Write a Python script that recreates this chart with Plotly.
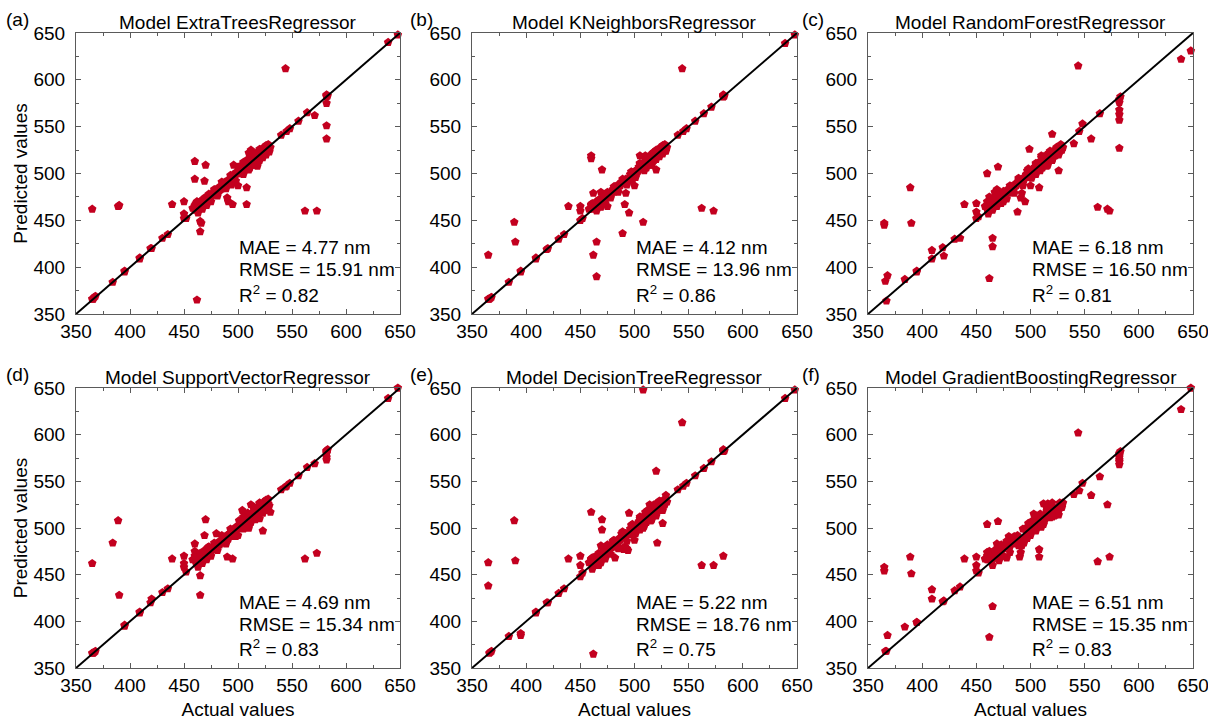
import plotly.graph_objects as go

# ---------------- data ----------------
actual = [
    365, 365, 366, 367, 368, 384, 389, 390, 395, 395,
    409, 409, 419, 420, 430, 435, 439, 450, 450, 450,
    452, 460, 460, 460, 461, 462, 462, 463, 465, 465,
    465, 466, 467, 468, 469, 470, 470, 471, 472, 473,
    474, 475, 476, 477, 478, 479, 480, 481, 482, 483,
    484, 485, 486, 487, 488, 489, 490, 491, 492, 493,
    494, 495, 496, 497, 498, 499, 500, 501, 502, 503,
    504, 505, 506, 507, 508, 508, 509, 510, 511, 512,
    513, 514, 515, 516, 517, 518, 519, 520, 521, 522,
    523, 524, 525, 526, 527, 528, 530, 540, 544, 545,
    548, 556, 562, 564, 571, 573, 582, 582, 582, 583,
    639, 648, 461, 463, 464, 466, 468, 472, 476, 480,
    484, 488, 492, 496, 500, 503, 506, 510, 513, 516,
    519, 522, 525, 528, 460, 462, 582, 582, 582, 464,
    458, 461, 463, 465, 467, 469, 471, 473, 475, 478,
    481, 485, 489, 493, 497, 501, 505, 509, 512, 515,
    518, 520, 523, 526, 529, 505, 510, 515, 520, 498,
]

pred_extra_trees = [
    462, 366, 366, 368, 369, 384, 465, 466, 395, 396,
    409, 410, 420, 420, 431, 435, 467, 470, 457, 452,
    452, 513, 494, 466, 468, 365, 470, 465, 449, 438,
    470, 447, 466, 469, 492, 509, 472, 470, 474, 472,
    476, 474, 478, 477, 481, 479, 483, 480, 485, 482,
    486, 484, 489, 487, 491, 490, 474, 470, 494, 491,
    488, 467, 499, 496, 501, 500, 487, 503, 500, 508,
    507, 510, 505, 509, 485, 467, 512, 522, 506, 525,
    511, 517, 520, 509, 522, 508, 523, 516, 524, 519,
    521, 528, 527, 530, 524, 531, 528, 541, 612, 545,
    548, 556, 460, 565, 562, 460, 575, 551, 537, 583,
    640, 648, 463, 466, 463, 470, 467, 474, 478, 479,
    483, 486, 490, 509, 507, 504, 509, 513, 511, 514,
    521, 518, 523, 526, 461, 465, 582, 583, 584, 466,
    463, 467, 458, 470, 462, 474, 466, 478, 470, 483,
    476, 491, 484, 498, 492, 507, 499, 515, 517, 509,
    512, 526, 517, 520, 523, 512, 504, 521, 514, 492,
]

pred_kneighbors = [
    413, 366, 366, 367, 368, 384, 448, 427, 395, 396,
    409, 410, 419, 420, 430, 435, 465, 465, 460, 450,
    452, 519, 516, 466, 468, 413, 479, 465, 427, 390,
    470, 468, 466, 469, 480, 504, 471, 470, 474, 472,
    476, 465, 478, 477, 480, 479, 483, 480, 486, 482,
    486, 484, 489, 487, 491, 436, 490, 467, 479, 491,
    493, 458, 499, 496, 501, 500, 487, 503, 500, 504,
    507, 519, 505, 509, 448, 506, 512, 519, 506, 515,
    511, 517, 520, 509, 522, 514, 523, 504, 524, 519,
    521, 528, 527, 530, 524, 531, 528, 541, 612, 545,
    548, 556, 463, 564, 571, 460, 582, 583, 582, 583,
    639, 648, 462, 465, 463, 468, 466, 473, 475, 481,
    485, 490, 494, 493, 499, 502, 508, 511, 514, 517,
    522, 520, 526, 525, 467, 464, 583, 582, 584, 466,
    462, 466, 468, 460, 472, 464, 476, 468, 480, 474,
    486, 480, 494, 488, 502, 496, 510, 503, 517, 510,
    523, 515, 518, 521, 524, 511, 515, 509, 525, 493,
]

pred_random_forest = [
    447, 445, 385, 364, 391, 387, 485, 447, 395, 396,
    418, 409, 421, 412, 430, 431, 467, 468, 459, 452,
    454, 500, 470, 466, 468, 388, 475, 465, 431, 422,
    470, 468, 480, 469, 483, 507, 471, 478, 474, 472,
    476, 470, 478, 477, 481, 483, 479, 480, 486, 482,
    486, 484, 489, 487, 459, 493, 490, 474, 479, 491,
    493, 470, 499, 496, 501, 526, 487, 503, 500, 504,
    507, 510, 505, 509, 485, 512, 512, 519, 506, 515,
    511, 517, 520, 509, 522, 514, 523, 542, 524, 519,
    521, 528, 527, 503, 524, 531, 528, 532, 615, 545,
    553, 537, 464, 564, 462, 460, 579, 576, 568, 582,
    622, 631, 462, 465, 463, 470, 466, 473, 478, 481,
    485, 490, 494, 498, 502, 505, 509, 512, 516, 518,
    522, 520, 526, 525, 462, 466, 563, 557, 527, 467,
    465, 457, 470, 461, 474, 465, 477, 468, 481, 473,
    487, 479, 495, 487, 503, 495, 511, 503, 518, 509,
    524, 514, 519, 520, 525, 499, 517, 508, 514, 505,
]

pred_support_vector = [
    462, 366, 366, 367, 368, 484, 508, 428, 395, 396,
    409, 410, 420, 424, 431, 435, 467, 470, 462, 458,
    453, 483, 475, 470, 466, 468, 472, 465, 449, 428,
    470, 467, 466, 469, 492, 509, 474, 470, 479, 475,
    476, 474, 478, 477, 481, 479, 494, 480, 485, 482,
    486, 484, 489, 487, 491, 490, 469, 488, 494, 491,
    493, 467, 497, 496, 501, 500, 492, 503, 500, 504,
    519, 510, 505, 509, 507, 506, 512, 500, 506, 525,
    511, 517, 520, 509, 522, 514, 523, 510, 524, 519,
    497, 528, 527, 530, 524, 531, 517, 541, 544, 545,
    548, 556, 467, 565, 569, 473, 580, 576, 573, 584,
    639, 650, 463, 466, 463, 470, 467, 474, 478, 479,
    485, 490, 494, 493, 499, 502, 508, 511, 514, 517,
    521, 518, 523, 526, 466, 465, 582, 583, 581, 466,
    466, 468, 458, 473, 462, 476, 466, 480, 470, 484,
    476, 492, 483, 499, 491, 508, 499, 516, 506, 520,
    512, 527, 516, 519, 524, 512, 504, 521, 526, 491,
]

pred_decision_tree = [
    463, 438, 366, 367, 368, 384, 508, 465, 387, 385,
    409, 410, 420, 420, 430, 435, 467, 470, 460, 448,
    452, 517, 466, 463, 468, 365, 465, 465, 461, 467,
    470, 468, 460, 469, 481, 509, 498, 470, 474, 472,
    476, 474, 478, 477, 481, 479, 486, 480, 468, 482,
    486, 484, 489, 487, 494, 490, 477, 480, 494, 478,
    476, 516, 499, 496, 501, 500, 487, 503, 500, 504,
    507, 510, 505, 509, 648, 500, 512, 514, 506, 515,
    511, 525, 520, 509, 522, 514, 523, 561, 484, 519,
    521, 528, 527, 505, 524, 531, 528, 541, 613, 545,
    548, 556, 460, 564, 571, 460, 470, 582, 583, 583,
    639, 648, 462, 465, 463, 468, 466, 473, 475, 481,
    485, 490, 494, 493, 499, 502, 508, 511, 514, 517,
    522, 520, 526, 525, 467, 464, 583, 582, 584, 466,
    463, 456, 469, 460, 473, 463, 478, 467, 482, 472,
    487, 478, 496, 486, 503, 494, 512, 502, 519, 508,
    525, 513, 529, 519, 535, 498, 517, 508, 526, 504,
]

pred_gradient_boosting = [
    458, 454, 368, 368, 385, 394, 469, 451, 399, 399,
    434, 424, 421, 422, 433, 437, 467, 469, 460, 454,
    452, 504, 470, 466, 470, 383, 475, 468, 416, 472,
    466, 470, 474, 468, 483, 507, 472, 480, 478, 476,
    470, 478, 482, 480, 468, 483, 491, 480, 486, 485,
    483, 484, 488, 487, 489, 490, 469, 474, 481, 486,
    484, 490, 496, 494, 499, 502, 492, 505, 507, 515,
    504, 510, 503, 509, 477, 469, 510, 512, 505, 526,
    514, 512, 518, 526, 512, 516, 519, 521, 515, 521,
    521, 518, 520, 514, 527, 524, 527, 536, 602, 540,
    548, 535, 464, 555, 525, 469, 578, 573, 568, 582,
    627, 650, 466, 468, 465, 472, 471, 477, 480, 484,
    487, 492, 488, 500, 498, 506, 504, 509, 508, 519,
    516, 513, 521, 523, 474, 470, 580, 576, 571, 470,
    467, 470, 474, 460, 476, 478, 465, 482, 470, 486,
    474, 491, 481, 499, 489, 507, 497, 515, 504, 521,
    511, 527, 514, 518, 522, 513, 501, 522, 512, 505,
]

model_names = [
    "ExtraTreesRegressor", "KNeighborsRegressor", "RandomForestRegressor",
    "SupportVectorRegressor", "DecisionTreeRegressor", "GradientBoostingRegressor",
]
panel_labels = ["(a)", "(b)", "(c)", "(d)", "(e)", "(f)"]
predictions = [pred_extra_trees, pred_kneighbors, pred_random_forest,
               pred_support_vector, pred_decision_tree, pred_gradient_boosting]
mae = ["4.77", "4.12", "6.18", "4.69", "5.22", "6.51"]
rmse = ["15.91", "13.96", "16.50", "15.34", "18.76", "15.35"]
r2 = ["0.82", "0.86", "0.81", "0.83", "0.75", "0.83"]
axis_range = [350, 650]
tick_vals = [350, 400, 450, 500, 550, 600, 650]

# ---------------- layout geometry (pixels) ----------------
W, H = 1208, 720
col_px = [(76, 400), (472, 797), (868, 1193)]
row_px = [(33, 314), (388, 668)]

FONT = "Arial, Liberation Sans, sans-serif"
MARKER_COLOR = "#C3001F"
AXIS_COLOR = "#5a5a5a"

fig = go.Figure()
annotations = []
layout_axes = {}

for i in range(6):
    r, c = divmod(i, 3)
    k = "" if i == 0 else str(i + 1)
    xa, ya = "x" + k, "y" + k
    x0, x1 = col_px[c]
    y0, y1 = row_px[r]
    xdom = [x0 / W, x1 / W]
    ydom = [1 - y1 / H, 1 - y0 / H]

    fig.add_trace(go.Scatter(
        x=actual, y=predictions[i], mode="markers", xaxis=xa, yaxis=ya,
        marker=dict(symbol="pentagon", size=9, color=MARKER_COLOR, line=dict(width=0)),
        showlegend=False, cliponaxis=False,
    ))
    fig.add_trace(go.Scatter(
        x=axis_range, y=axis_range, mode="lines", xaxis=xa, yaxis=ya,
        line=dict(color="black", width=2), showlegend=False,
    ))

    common = dict(
        range=axis_range, tickvals=tick_vals, ticks="inside", ticklen=5, tickwidth=1,
        tickcolor=AXIS_COLOR, showline=True, linecolor=AXIS_COLOR, linewidth=1.2,
        mirror="ticks", showgrid=False, zeroline=False, automargin=False,
        ticklabeloverflow="allow",
        tickfont=dict(family=FONT, size=19, color="black"),
        minor=dict(ticks="inside", ticklen=3, tickcolor=AXIS_COLOR, dtick=25, tick0=350,
                   showgrid=False),
    )
    xaxis = dict(common, domain=xdom, anchor=ya, ticklabelstandoff=0)
    yaxis = dict(common, domain=ydom, anchor=xa, ticklabelstandoff=6)
    if r == 1:
        xaxis["title"] = dict(text="Actual values", font=dict(family=FONT, size=19, color="black"),
                              standoff=16)
    if c == 0:
        yaxis["title"] = dict(text="Predicted values", font=dict(family=FONT, size=19, color="black"),
                              standoff=0)
    layout_axes["xaxis" + k] = xaxis
    layout_axes["yaxis" + k] = yaxis

    # title
    annotations.append(dict(
        text="Model " + model_names[i], xref=xa + " domain", yref=ya + " domain",
        x=0.5, y=1, xanchor="center", yanchor="bottom", yshift=-2, showarrow=False,
        font=dict(family=FONT, size=19, color="black"),
    ))
    # panel label
    label_x = [4, 408, 800][c]
    annotations.append(dict(
        text=panel_labels[i], xref="paper", yref="paper",
        x=label_x / W, y=1 - (y0 - 14) / H, xanchor="left", yanchor="middle",
        showarrow=False, font=dict(family=FONT, size=19, color="black"),
    ))
    # metrics
    lines = ["MAE = %s nm" % mae[i], "RMSE = %s nm" % rmse[i], "R<sup>2</sup> = %s" % r2[i]]
    for txt, yy in zip(lines, [0.235, 0.157, 0.071]):
        annotations.append(dict(
            text=txt, xref=xa + " domain", yref=ya + " domain", x=0.497, y=yy,
            xanchor="left", yanchor="middle", showarrow=False,
            font=dict(family=FONT, size=19, color="black"),
        ))

fig.update_layout(
    width=W, height=H, margin=dict(l=0, r=0, t=0, b=0),
    plot_bgcolor="white", paper_bgcolor="white",
    annotations=annotations, **layout_axes,
)

fig.write_html("out.html")
